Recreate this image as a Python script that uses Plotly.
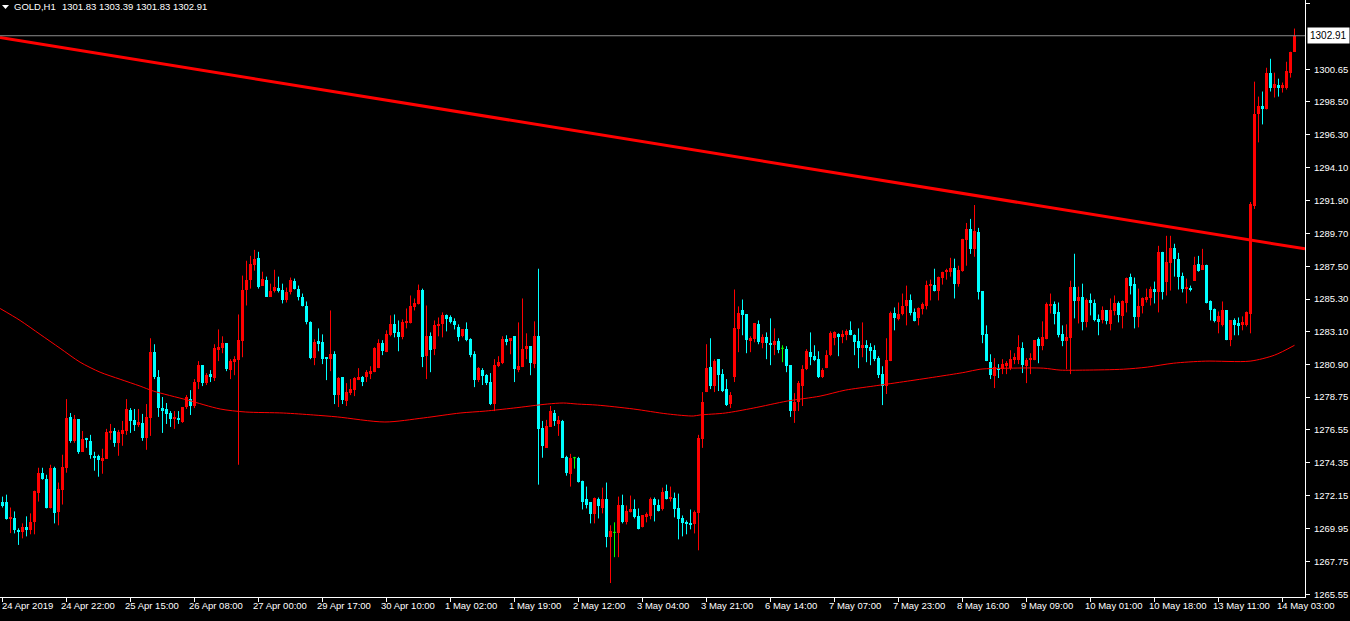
import plotly.graph_objects as go

# ---------------- data ----------------
opens = [
    1271.70, 1271.70, 1270.60, 1270.63, 1269.85, 1269.70, 1270.03, 1269.83, 1270.37, 1272.36,
    1273.69, 1273.29, 1271.36, 1274.02, 1271.03, 1272.56, 1274.02, 1277.42, 1275.82, 1277.28,
    1275.09, 1275.95, 1275.82, 1274.82, 1274.82, 1274.49, 1274.62, 1276.35, 1276.48, 1275.69,
    1276.28, 1276.48, 1277.88, 1277.22, 1276.88, 1277.02, 1276.02, 1277.35, 1281.75, 1280.08,
    1278.01, 1277.95, 1277.68, 1277.28, 1277.35, 1277.08, 1278.08, 1278.61, 1278.15, 1279.75,
    1280.88, 1279.68, 1280.28, 1280.02, 1281.95, 1282.01, 1282.35, 1280.55, 1281.15, 1281.21,
    1282.48, 1285.94, 1286.60, 1287.60, 1288.06, 1286.20, 1286.60, 1285.47, 1285.87, 1286.07,
    1285.94, 1285.21, 1285.74, 1286.54, 1286.00, 1285.47, 1284.87, 1283.74, 1281.35, 1282.48,
    1282.41, 1281.41, 1281.28, 1281.61, 1278.88, 1280.08, 1278.48, 1279.01, 1279.21, 1279.95,
    1280.08, 1280.08, 1280.35, 1280.41, 1280.68, 1282.35, 1281.75, 1282.88, 1283.61, 1283.07,
    1282.74, 1283.67, 1283.67, 1284.74, 1284.94, 1285.94, 1281.48, 1282.81, 1281.95, 1283.47,
    1283.61, 1284.21, 1284.07, 1283.81, 1283.41, 1282.81, 1283.27, 1282.61, 1281.61, 1279.88,
    1280.55, 1280.21, 1279.75, 1278.28, 1280.81, 1281.01, 1282.61, 1282.48, 1282.81, 1280.55,
    1280.75, 1281.95, 1282.15, 1280.95, 1282.81, 1276.68, 1275.35, 1276.75, 1277.68, 1276.95,
    1277.15, 1274.75, 1273.62, 1274.69, 1274.69, 1273.16, 1271.96, 1271.70, 1270.90, 1271.96,
    1271.30, 1271.96, 1269.36, 1269.70, 1269.63, 1271.50, 1270.37, 1271.03, 1271.23, 1270.77,
    1270.03, 1270.70, 1270.77, 1271.90, 1271.56, 1271.23, 1272.49, 1271.96, 1272.03, 1271.30,
    1270.63, 1270.37, 1270.30, 1270.23, 1270.97, 1275.95, 1279.08, 1280.75, 1279.48, 1281.28,
    1280.28, 1279.28, 1278.28, 1280.08, 1283.27, 1284.54, 1284.27, 1282.55, 1282.61, 1283.61,
    1282.35, 1282.74, 1282.35, 1282.21, 1282.48, 1282.01, 1281.95, 1280.88, 1277.81, 1278.41,
    1279.48, 1280.61, 1281.75, 1281.48, 1281.28, 1280.08, 1280.68, 1281.55, 1282.68, 1282.94,
    1282.74, 1282.88, 1283.21, 1282.88, 1282.48, 1282.01, 1282.21, 1282.08, 1281.88, 1281.35,
    1280.28, 1279.48, 1281.15, 1284.34, 1283.94, 1284.27, 1284.87, 1285.27, 1284.41, 1284.01,
    1284.61, 1284.87, 1286.20, 1286.27, 1285.81, 1286.74, 1287.13, 1287.13, 1287.40, 1286.33,
    1287.20, 1289.26, 1290.00, 1288.66, 1289.80, 1285.81, 1282.94, 1281.08, 1280.15, 1280.68,
    1280.61, 1280.88, 1280.68, 1281.21, 1281.21, 1282.01, 1280.81, 1281.21, 1281.21, 1282.61,
    1282.15, 1282.61, 1284.87, 1284.94, 1284.41, 1282.94, 1282.48, 1282.68, 1286.13, 1285.14,
    1285.41, 1283.74, 1285.21, 1285.07, 1283.94, 1283.87, 1284.54, 1283.61, 1284.47, 1285.07,
    1284.14, 1285.07, 1286.80, 1286.33, 1284.07, 1284.87, 1285.27, 1285.34, 1286.00, 1285.74,
    1288.46, 1286.47, 1287.73, 1288.73, 1288.00, 1286.87, 1286.00, 1286.07, 1286.53, 1287.66,
    1287.26, 1287.60, 1285.14, 1284.61, 1283.74, 1283.54, 1284.54, 1282.55, 1283.87, 1283.67,
    1283.54, 1283.54, 1284.27, 1291.52, 1297.71, 1298.18, 1297.98, 1300.44, 1299.44, 1299.64,
    1299.44, 1299.44, 1300.44, 1301.83,
]
highs = [
    1272.09, 1272.22, 1271.36, 1271.10, 1269.97, 1270.30, 1270.77, 1270.97, 1272.49, 1274.02,
    1274.02, 1273.55, 1274.22, 1274.09, 1273.03, 1274.89, 1278.61, 1277.68, 1277.55, 1277.28,
    1276.48, 1276.02, 1276.22, 1275.09, 1274.89, 1275.29, 1276.62, 1276.95, 1276.68, 1276.55,
    1277.15, 1278.61, 1278.01, 1277.95, 1277.95, 1277.62, 1278.28, 1282.68, 1282.28, 1280.55,
    1278.75, 1278.35, 1277.81, 1277.81, 1277.81, 1278.08, 1278.88, 1279.21, 1279.95, 1281.15,
    1280.88, 1280.35, 1280.55, 1282.28, 1283.27, 1282.81, 1282.35, 1281.28, 1281.48, 1284.27,
    1286.87, 1287.86, 1288.19, 1288.59, 1288.46, 1287.13, 1286.80, 1286.33, 1287.26, 1286.80,
    1286.33, 1286.07, 1286.74, 1286.67, 1286.20, 1285.67, 1285.14, 1283.81, 1282.61, 1283.34,
    1282.94, 1281.41, 1284.54, 1281.81, 1280.08, 1280.08, 1279.68, 1279.95, 1280.08, 1280.68,
    1280.15, 1280.55, 1280.81, 1282.08, 1282.61, 1282.55, 1283.21, 1284.21, 1284.27, 1283.87,
    1283.94, 1284.67, 1285.54, 1285.34, 1286.27, 1286.00, 1284.87, 1283.07, 1283.87, 1284.07,
    1284.41, 1284.27, 1284.21, 1284.01, 1283.61, 1283.27, 1283.74, 1282.68, 1281.81, 1280.75,
    1280.68, 1280.28, 1280.35, 1281.28, 1281.48, 1282.81, 1282.88, 1282.68, 1282.81, 1283.74,
    1285.34, 1283.01, 1282.15, 1283.81, 1287.33, 1277.15, 1277.22, 1278.15, 1277.88, 1277.48,
    1277.22, 1274.82, 1274.95, 1274.75, 1274.75, 1273.16, 1272.76, 1271.70, 1272.03, 1272.03,
    1272.69, 1273.03, 1270.17, 1270.37, 1272.09, 1272.22, 1271.50, 1272.16, 1271.90, 1271.30,
    1270.83, 1271.03, 1272.03, 1272.03, 1271.90, 1272.69, 1272.89, 1272.76, 1272.36, 1272.29,
    1270.83, 1270.50, 1271.23, 1271.16, 1276.22, 1279.08, 1282.28, 1282.68, 1281.28, 1281.28,
    1280.61, 1279.95, 1279.08, 1285.94, 1284.81, 1285.27, 1284.27, 1282.81, 1283.67, 1283.87,
    1282.94, 1283.07, 1284.01, 1283.34, 1282.68, 1282.21, 1282.15, 1280.88, 1279.01, 1279.82,
    1280.88, 1281.95, 1283.07, 1282.21, 1281.81, 1280.68, 1281.88, 1283.14, 1283.14, 1283.01,
    1283.21, 1283.27, 1283.81, 1282.94, 1283.34, 1283.74, 1282.55, 1282.35, 1282.21, 1281.48,
    1280.81, 1282.68, 1284.47, 1284.74, 1285.07, 1285.67, 1286.20, 1285.61, 1284.67, 1284.74,
    1285.07, 1286.53, 1286.60, 1287.33, 1286.80, 1287.13, 1287.33, 1288.06, 1288.00, 1287.53,
    1289.33, 1290.39, 1290.66, 1291.59, 1290.06, 1285.81, 1283.54, 1281.61, 1281.35, 1280.95,
    1281.28, 1281.15, 1281.88, 1281.68, 1282.88, 1282.41, 1281.35, 1281.68, 1282.55, 1282.74,
    1283.81, 1285.07, 1285.67, 1285.14, 1285.07, 1283.54, 1283.61, 1286.53, 1288.33, 1286.13,
    1286.33, 1285.34, 1285.67, 1285.27, 1284.27, 1284.81, 1284.54, 1285.34, 1285.54, 1285.14,
    1285.21, 1286.74, 1287.00, 1286.74, 1286.00, 1285.41, 1286.00, 1286.13, 1286.47, 1288.86,
    1288.46, 1289.53, 1289.53, 1289.00, 1288.39, 1287.07, 1286.67, 1286.20, 1288.13, 1288.19,
    1288.66, 1287.60, 1285.21, 1284.67, 1284.47, 1285.14, 1284.54, 1283.87, 1284.01, 1284.07,
    1284.14, 1284.47, 1291.79, 1299.84, 1298.84, 1299.18, 1300.77, 1301.37, 1300.44, 1300.04,
    1299.78, 1301.17, 1301.84, 1303.39,
]
lows = [
    1271.36, 1270.55, 1269.65, 1269.63, 1268.86, 1269.30, 1269.43, 1269.57, 1269.57, 1271.76,
    1273.22, 1271.30, 1271.30, 1270.30, 1270.17, 1271.56, 1273.69, 1275.69, 1275.69, 1274.95,
    1275.09, 1275.35, 1274.62, 1273.82, 1273.42, 1273.62, 1274.62, 1275.89, 1275.42, 1274.82,
    1275.49, 1276.22, 1276.35, 1276.48, 1276.75, 1275.82, 1275.22, 1276.15, 1279.95, 1277.42,
    1276.35, 1276.95, 1276.75, 1276.62, 1276.95, 1277.02, 1277.95, 1277.55, 1278.01, 1279.28,
    1279.48, 1279.55, 1279.75, 1279.82, 1281.15, 1281.68, 1280.48, 1279.95, 1280.21, 1274.22,
    1281.41, 1284.87, 1286.00, 1287.20, 1286.00, 1286.20, 1285.47, 1285.47, 1285.74, 1285.74,
    1285.01, 1285.07, 1285.61, 1285.94, 1285.21, 1284.81, 1283.61, 1281.28, 1280.88, 1281.81,
    1280.95, 1279.88, 1280.48, 1278.28, 1278.08, 1278.28, 1278.15, 1278.88, 1278.81, 1279.88,
    1279.48, 1279.75, 1279.95, 1280.41, 1280.68, 1281.55, 1281.75, 1282.81, 1282.74, 1281.81,
    1282.61, 1283.34, 1283.67, 1284.54, 1284.94, 1280.75, 1279.95, 1280.41, 1281.55, 1282.81,
    1282.74, 1283.14, 1283.67, 1283.27, 1282.48, 1282.74, 1282.48, 1281.41, 1279.41, 1279.75,
    1279.55, 1279.55, 1278.21, 1277.81, 1280.75, 1280.95, 1282.21, 1281.61, 1279.75, 1280.41,
    1280.75, 1281.28, 1280.21, 1280.68, 1272.89, 1274.69, 1275.35, 1276.75, 1276.82, 1276.15,
    1274.69, 1273.49, 1272.76, 1273.96, 1273.03, 1271.23, 1271.30, 1270.30, 1270.30, 1270.63,
    1270.97, 1268.70, 1266.31, 1268.04, 1268.04, 1270.30, 1270.23, 1271.03, 1270.63, 1269.90,
    1270.03, 1270.37, 1270.57, 1270.43, 1271.10, 1271.16, 1271.90, 1271.76, 1270.70, 1269.23,
    1269.43, 1269.57, 1269.90, 1269.63, 1268.50, 1275.35, 1279.08, 1279.28, 1279.08, 1279.15,
    1279.08, 1278.15, 1278.01, 1279.75, 1281.75, 1282.88, 1281.68, 1281.75, 1282.41, 1282.28,
    1282.01, 1281.28, 1280.88, 1281.55, 1281.68, 1281.08, 1280.41, 1277.42, 1277.02, 1277.81,
    1278.15, 1280.55, 1280.88, 1281.15, 1280.02, 1280.02, 1280.68, 1281.48, 1282.21, 1281.48,
    1282.35, 1282.55, 1282.88, 1281.55, 1280.68, 1281.41, 1281.08, 1280.88, 1281.15, 1280.02,
    1278.21, 1278.95, 1281.15, 1283.21, 1283.87, 1284.21, 1283.54, 1284.21, 1283.81, 1283.54,
    1284.27, 1284.61, 1285.21, 1285.81, 1285.21, 1286.27, 1286.60, 1286.80, 1285.34, 1286.13,
    1287.13, 1287.53, 1288.32, 1288.13, 1285.27, 1282.35, 1281.15, 1279.95, 1279.35, 1280.02,
    1280.28, 1280.28, 1280.55, 1280.95, 1280.95, 1280.35, 1279.68, 1280.28, 1281.21, 1281.01,
    1281.88, 1282.61, 1284.34, 1283.61, 1282.74, 1282.15, 1280.61, 1280.28, 1284.01, 1283.67,
    1283.21, 1283.41, 1284.21, 1283.81, 1282.88, 1283.67, 1283.61, 1283.21, 1284.21, 1283.74,
    1283.34, 1284.41, 1285.61, 1283.34, 1283.41, 1284.34, 1285.07, 1284.87, 1285.01, 1284.41,
    1285.27, 1285.54, 1285.87, 1286.80, 1285.94, 1285.74, 1285.01, 1285.81, 1286.53, 1287.13,
    1287.26, 1285.01, 1283.87, 1283.74, 1283.01, 1283.47, 1282.55, 1282.15, 1282.88, 1282.88,
    1283.21, 1283.47, 1283.01, 1291.33, 1295.78, 1296.98, 1297.98, 1299.18, 1298.78, 1298.84,
    1299.11, 1299.31, 1300.11, 1301.83,
]
closes = [
    1271.43, 1270.60, 1270.70, 1269.85, 1269.70, 1270.03, 1269.83, 1270.37, 1272.49, 1273.69,
    1273.29, 1271.36, 1274.02, 1270.97, 1272.63, 1274.09, 1277.35, 1275.82, 1277.28, 1275.09,
    1275.95, 1275.92, 1274.89, 1274.69, 1274.56, 1274.69, 1276.42, 1276.48, 1275.69, 1276.42,
    1276.55, 1277.95, 1277.15, 1276.88, 1277.08, 1276.02, 1277.42, 1281.75, 1280.08, 1278.01,
    1277.81, 1277.62, 1277.28, 1277.42, 1277.22, 1278.08, 1278.75, 1278.15, 1279.75, 1280.88,
    1279.68, 1280.21, 1280.15, 1282.01, 1282.08, 1282.35, 1280.61, 1281.15, 1281.28, 1282.55,
    1285.94, 1286.60, 1287.66, 1288.00, 1286.13, 1286.67, 1285.47, 1285.87, 1286.13, 1285.87,
    1285.21, 1285.74, 1286.60, 1286.00, 1285.41, 1284.81, 1283.74, 1281.35, 1282.41, 1282.35,
    1281.28, 1281.35, 1281.61, 1278.88, 1280.02, 1278.55, 1279.08, 1279.28, 1280.02, 1280.08,
    1279.75, 1280.41, 1280.48, 1282.01, 1282.35, 1281.81, 1282.94, 1283.61, 1283.01, 1282.74,
    1283.74, 1283.81, 1284.81, 1285.01, 1285.94, 1281.41, 1282.81, 1281.88, 1283.54, 1283.61,
    1284.21, 1283.94, 1283.74, 1283.54, 1282.74, 1283.27, 1282.55, 1281.55, 1279.88, 1280.68,
    1280.15, 1279.68, 1278.28, 1280.88, 1281.08, 1282.61, 1282.48, 1282.68, 1280.61, 1280.81,
    1281.95, 1282.15, 1281.01, 1282.81, 1276.62, 1275.49, 1276.82, 1277.81, 1277.15, 1277.22,
    1274.69, 1273.69, 1274.69, 1274.69, 1273.09, 1271.76, 1271.56, 1270.90, 1272.03, 1271.43,
    1271.90, 1269.36, 1269.77, 1269.70, 1271.50, 1270.37, 1271.10, 1271.23, 1270.70, 1269.90,
    1270.83, 1270.90, 1271.90, 1271.50, 1271.16, 1272.43, 1271.96, 1272.09, 1271.23, 1270.57,
    1270.30, 1270.23, 1270.23, 1271.03, 1276.02, 1278.41, 1280.68, 1279.48, 1281.15, 1280.21,
    1279.15, 1278.21, 1278.88, 1283.34, 1284.34, 1284.21, 1282.55, 1282.68, 1283.67, 1282.41,
    1282.74, 1282.35, 1282.21, 1282.48, 1281.88, 1282.01, 1280.81, 1277.81, 1278.41, 1279.68,
    1280.61, 1281.81, 1281.41, 1281.21, 1280.08, 1280.55, 1281.55, 1283.01, 1283.07, 1282.81,
    1282.94, 1283.14, 1282.88, 1282.41, 1282.01, 1282.21, 1282.01, 1281.81, 1281.28, 1280.21,
    1279.48, 1281.21, 1284.34, 1284.01, 1284.27, 1284.87, 1285.21, 1284.34, 1283.81, 1284.67,
    1284.94, 1286.27, 1286.33, 1285.81, 1286.80, 1287.13, 1287.26, 1287.40, 1286.33, 1287.26,
    1289.33, 1290.00, 1288.66, 1289.86, 1285.74, 1282.88, 1281.15, 1280.21, 1280.75, 1280.61,
    1280.95, 1281.01, 1281.28, 1281.41, 1282.08, 1280.88, 1281.21, 1281.35, 1282.55, 1282.15,
    1282.74, 1284.94, 1284.94, 1284.27, 1282.88, 1282.48, 1282.74, 1286.13, 1285.14, 1285.41,
    1283.74, 1285.21, 1285.01, 1283.87, 1283.81, 1284.54, 1283.81, 1284.54, 1285.07, 1284.21,
    1285.14, 1286.74, 1286.20, 1284.07, 1284.87, 1285.34, 1285.47, 1286.00, 1285.74, 1288.46,
    1285.74, 1287.80, 1288.73, 1288.00, 1286.80, 1286.00, 1286.07, 1285.94, 1287.60, 1287.20,
    1287.60, 1285.07, 1284.54, 1283.81, 1284.14, 1284.54, 1282.55, 1283.87, 1283.54, 1283.54,
    1283.74, 1284.41, 1291.66, 1297.71, 1298.18, 1297.98, 1300.44, 1299.44, 1299.71, 1299.44,
    1299.64, 1300.57, 1301.84, 1302.91,
]

# moving average (bar index, value)
ma_bars = [-0.6, 4.4, 9.4, 14.4, 19.4, 24.4, 29.4, 34.4, 37.7, 46.2, 54.4, 60.7, 70.2,
           77.7, 83.7, 95.6, 105.2, 114.4, 120.7, 127.7, 136.2, 140.2, 143.7, 148.7, 157.7,
           166.2, 172.7, 174.4, 180.7, 187.7, 196.2, 204.4, 210.7, 217.7, 226.2, 234.4,
           240.7, 244.4, 251.9, 260.2, 264.4, 270.7, 280.2, 286.2, 292.7, 300.7, 311.9,
           318.0, 323.0]
ma_values = [1284.67, 1283.87, 1282.94, 1282.01, 1281.08, 1280.41, 1279.94, 1279.48,
             1279.15, 1278.55, 1277.95, 1277.75, 1277.68, 1277.55, 1277.42, 1277.08,
             1277.35, 1277.68, 1277.81, 1278.01, 1278.28, 1278.35, 1278.28, 1278.21,
             1277.95, 1277.62, 1277.48, 1277.55, 1277.68, 1278.01, 1278.48, 1278.81,
             1279.21, 1279.48, 1279.81, 1280.14, 1280.41, 1280.61, 1280.68, 1280.68,
             1280.55, 1280.55, 1280.61, 1280.75, 1281.01, 1281.15, 1281.15, 1281.55,
             1282.21]

# trend line anchors (bar index, price)
trend_bars = [-0.625, 325.625]
trend_values = [1302.79, 1288.66]

bid_price = 1302.91
header_symbol = "GOLD,H1"
header_ohlc = "1301.83 1303.39 1301.83 1302.91"

time_label_bars = [0, 16, 32, 48, 64, 80, 96, 112, 128, 144, 160, 176, 192, 208, 224,
                   240, 256, 272, 288, 304, 320]
time_labels = ["24 Apr 2019", "24 Apr 22:00", "25 Apr 15:00", "26 Apr 08:00", "27 Apr 00:00",
               "29 Apr 17:00", "30 Apr 10:00", "1 May 02:00", "1 May 19:00", "2 May 12:00",
               "3 May 04:00", "3 May 21:00", "6 May 14:00", "7 May 07:00", "7 May 23:00",
               "8 May 16:00", "9 May 09:00", "10 May 01:00", "10 May 18:00", "13 May 11:00",
               "14 May 03:00"]
price_ticks = [1305.05, 1300.65, 1298.50, 1296.30, 1294.10, 1291.90, 1289.70, 1287.50,
               1285.30, 1283.10, 1280.90, 1278.75, 1276.55, 1274.35, 1272.15, 1269.95,
               1267.75, 1265.55]

# ---------------- figure ----------------
W, H = 1350, 621
PLOT_RIGHT = 1305
PLOT_BOTTOM = 600
UP, DOWN, DOJI = "#FF0000", "#00FFFF", "#00FF00"
FONT = "Liberation Sans"

n = len(closes)
up = [i for i in range(n) if closes[i] > opens[i]]
dn = [i for i in range(n) if closes[i] < opens[i]]
dj = [i for i in range(n) if closes[i] == opens[i]]

fig = go.Figure()


def wick_trace(ids, color):
    xs, ys = [], []
    for i in ids:
        xs += [i, i, None]
        ys += [lows[i], highs[i], None]
    return go.Scatter(x=xs, y=ys, mode="lines", line=dict(color=color, width=1),
                      hoverinfo="skip", showlegend=False)


for ids, color in ((up, UP), (dn, DOWN), (dj, DOJI)):
    fig.add_trace(wick_trace(ids, color))

for ids, color in ((up, UP), (dn, DOWN)):
    fig.add_trace(go.Bar(
        x=ids,
        y=[abs(closes[i] - opens[i]) for i in ids],
        base=[min(opens[i], closes[i]) for i in ids],
        width=0.75, marker=dict(color=color, line=dict(width=0)),
        hoverinfo="skip", showlegend=False))

# doji bodies as short horizontal strokes
dx, dy = [], []
for i in dj:
    dx += [i - 0.375, i + 0.375, None]
    dy += [opens[i], opens[i], None]
fig.add_trace(go.Scatter(x=dx, y=dy, mode="lines", line=dict(color=DOJI, width=1),
                         hoverinfo="skip", showlegend=False))

# moving average
fig.add_trace(go.Scatter(x=ma_bars, y=ma_values, mode="lines",
                         line=dict(color="#FF0000", width=1, shape="spline", smoothing=0.8),
                         hoverinfo="skip", showlegend=False))
# trend line
fig.add_trace(go.Scatter(x=trend_bars, y=trend_values, mode="lines",
                         line=dict(color="#FF0000", width=3), hoverinfo="skip",
                         showlegend=False))
# bid line
fig.add_trace(go.Scatter(x=[trend_bars[0], trend_bars[1]], y=[bid_price, bid_price],
                         mode="lines", line=dict(color="#8C8C8C", width=1),
                         hoverinfo="skip", showlegend=False))

annotations = []
for b, t in zip(time_label_bars, time_labels):
    if b == 0:
        annotations.append(dict(x=0, xref="paper", y=1 - 608 / H, yref="paper", text=t,
                                showarrow=False, xanchor="left", yanchor="middle",
                                font=dict(family=FONT, size=9.5, color="white")))
    else:
        annotations.append(dict(x=b, xref="x", y=1 - 608 / H, yref="paper", text=t,
                                showarrow=False, xanchor="left", yanchor="middle", xshift=-8,
                                font=dict(family=FONT, size=9.5, color="white")))

annotations.append(dict(x=12 / W, xref="paper", y=1 - 7 / H, yref="paper", text=header_symbol,
                        showarrow=False, xanchor="left", yanchor="middle",
                        font=dict(family=FONT, size=9.5, color="white")))
annotations.append(dict(x=60 / W, xref="paper", y=1 - 7 / H, yref="paper", text=header_ohlc,
                        showarrow=False, xanchor="left", yanchor="middle",
                        font=dict(family=FONT, size=9.5, color="white")))
annotations.append(dict(x=1307 / W, xref="paper", y=bid_price, yref="y",
                        text=f"{bid_price:.2f}", showarrow=False, xanchor="left",
                        yanchor="middle", bgcolor="white", borderpad=2,
                        font=dict(family=FONT, size=10, color="black")))

shapes = [dict(type="path", xref="paper", yref="paper",
               path=f"M {2/W} {1-5/H} L {9/W} {1-5/H} L {5.5/W} {1-9/H} Z",
               fillcolor="white", line=dict(width=0))]

fig.update_layout(
    width=W, height=H,
    margin=dict(l=0, r=0, t=0, b=0),
    paper_bgcolor="black", plot_bgcolor="black",
    barmode="overlay", bargap=0,
    showlegend=False,
    annotations=annotations,
    shapes=shapes,
    xaxis=dict(domain=[0, PLOT_RIGHT / W], range=[-0.625, 325.625],
               showgrid=False, zeroline=False, showline=True, linecolor="white",
               linewidth=1, tickmode="array", tickvals=time_label_bars,
               ticks="outside", ticklen=4, tickcolor="white", showticklabels=False,
               fixedrange=True),
    yaxis=dict(domain=[1 - PLOT_BOTTOM / H, 1], range=[1265.37, 1305.30], side="right",
               showgrid=False, zeroline=False, showline=True, linecolor="white",
               linewidth=1, tickmode="array", tickvals=price_ticks,
               ticktext=[f"{v:.2f}" for v in price_ticks], ticks="outside", ticklen=4,
               tickcolor="white", tickfont=dict(family=FONT, size=9.5, color="white"),
               ticklabelstandoff=2, fixedrange=True),
)

fig.write_html("out.html", config={"displayModeBar": False},
               post_script="document.body.style.margin='0';")
